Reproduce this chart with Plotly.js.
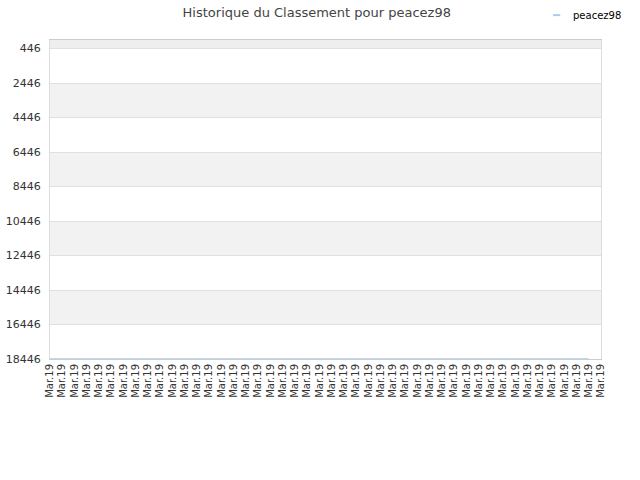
<!DOCTYPE html>
<html>
<head>
<meta charset="utf-8">
<script src="https://cdn.plot.ly/plotly-3.0.1.min.js"></script>
<style>
  html, body { margin: 0; padding: 0; background: #fff; }
  #chart { width: 640px; height: 480px; }
</style>
</head>
<body>
<div id="chart"></div>
<script>
const playerName = 'peacez98'
const lineColor = '#a8cdef'
// one label per snapshot, all from the same month
const dateLabels = Array(46).fill('Mar.19')
// rank at each snapshot (last slot has no value)
const rankValues = [
  18446, 18446, 18446, 18446, 18446, 18446, 18446, 18446, 18446, 18446,
  18446, 18446, 18446, 18446, 18446, 18446, 18446, 18446, 18446, 18446,
  18446, 18446, 18446, 18446, 18446, 18446, 18446, 18446, 18446, 18446,
  18446, 18446, 18446, 18446, 18446, 18446, 18446, 18446, 18446, 18446,
  18446, 18446, 18446, 18446, 18446, null
]
const yTicks = [446, 2446, 4446, 6446, 8446, 10446, 12446, 14446, 16446, 18446]
const yTop = -54

const xIdx = dateLabels.map((_, i) => i)

// alternating grey bands between the y gridlines
const bandEdges = [yTop].concat(yTicks)
const shapes = []
for (let i = 0; i < bandEdges.length - 1; i += 2) {
  shapes.push({
    type: 'rect', xref: 'paper', yref: 'y', layer: 'below',
    x0: 0, x1: 1, y0: bandEdges[i], y1: bandEdges[i + 1],
    fillcolor: i === 0 ? '#eeeeee' : '#f2f2f2', line: { width: 0 }
  })
}
// small legend key, top right (plotly's own key line is too long)
shapes.push({
  type: 'line', xref: 'paper', yref: 'paper',
  x0: 0.913, x1: 0.926, y0: 1.078, y1: 1.078,
  line: { color: lineColor, width: 2 }
})

const data = [{
  type: 'scatter',
  mode: 'lines',
  name: playerName,
  x: xIdx,
  y: rankValues,
  line: { color: lineColor, width: 1.5 },
  hoverinfo: 'y',
  showlegend: false,
}]

const layout = {
  width: 640,
  height: 480,
  paper_bgcolor: '#ffffff',
  plot_bgcolor: '#ffffff',
  font: { family: 'DejaVu Sans', color: '#333333', size: 11 },
  title: {
    text: 'Historique du Classement pour ' + playerName,
    font: { family: 'DejaVu Sans', size: 13, color: '#444444' },
    x: 0.495, xanchor: 'center', y: 0.975, yanchor: 'middle',
  },
  margin: { t: 40, r: 39, b: 121, l: 50 },
  annotations: [{
    text: playerName, xref: 'paper', yref: 'paper',
    x: 0.945, y: 1.078, xanchor: 'left', yanchor: 'middle',
    showarrow: false,
    font: { family: 'DejaVu Sans', size: 10, color: '#000000' },
  }],
  xaxis: {
    range: [0, dateLabels.length - 1],
    tickmode: 'array',
    tickvals: xIdx,
    ticktext: dateLabels,
    tickangle: -90,
    tickfont: { family: 'DejaVu Sans', size: 10, color: '#333333' },
    showgrid: false,
    zeroline: false,
    showline: true,
    linecolor: '#cccccc',
    mirror: true,
    ticks: '',
  },
  yaxis: {
    range: [18446, yTop],
    tickmode: 'array',
    tickvals: yTicks,
    ticktext: yTicks.map(String),
    tickfont: { family: 'DejaVu Sans', size: 11, color: '#333333' },
    showgrid: true,
    gridcolor: '#e0e0e0',
    zeroline: false,
    showline: true,
    linecolor: '#dddddd',
    mirror: true,
    ticks: '',
    ticklabelstandoff: 6,
  },
  shapes: shapes,
}

Plotly.newPlot('chart', data, layout, { displayModeBar: false, staticPlot: true })
</script>
</body>
</html>
